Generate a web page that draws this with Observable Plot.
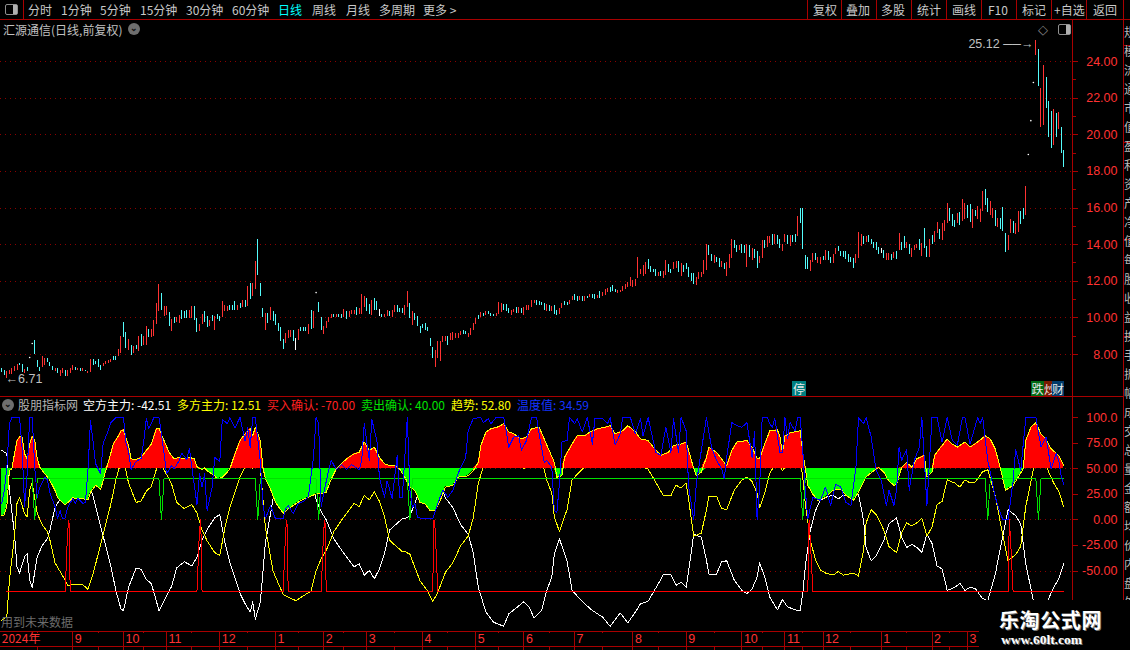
<!DOCTYPE html>
<html lang="zh">
<head>
<meta charset="utf-8">
<script src="https://cdn.jsdelivr.net/npm/d3@7"></script>
<script src="https://cdn.jsdelivr.net/npm/@observablehq/plot@0.6"></script>
<style>
html,body{margin:0;padding:0;background:#000;}
#stage{position:relative;width:1130px;height:650px;overflow:hidden;background:#000;font-family:"Noto Sans CJK SC","Liberation Sans",sans-serif;font-size:12px;color:#c8c8c8;}
#stage svg{position:absolute;left:0;background:transparent;}
#stage svg path,#stage svg line,#stage svg rect{shape-rendering:crispEdges;}
.t{position:absolute;white-space:nowrap;line-height:14px;}
.r{position:absolute;background:#a80000;}
.tag{position:absolute;top:381px;height:15px;line-height:15px;text-align:center;color:#e8e8e8;overflow:hidden;font-size:12px;}
</style>
</head>
<body>
<div id="stage"></div>
<script>
// ---- price bars: high, low, kind (r up, c down, w flat, d one-price dot)
const highs = [
7.24,7.15,7.05,7.15,7.24,7.33,7.45,7.51,7.45,7.18,
7.29,7.84,8.6,8.78,7.69,7.29,7.91,7.78,7.78,7.56,
7.36,7.24,7.24,7.11,7.24,7.15,7.11,7.24,7.42,7.29,
7.24,7.24,7.24,7.15,7.09,7.73,7.73,7.64,7.75,7.42,
7.51,7.64,7.69,7.73,7.91,7.87,8.29,8.96,9.75,9.18,
8.84,8.47,8.42,8.51,9.0,9.09,8.96,9.55,9.38,9.38,
9.87,10.78,11.84,11.33,10.64,10.6,10.29,9.93,10.02,10.02,
10.15,10.42,10.33,10.38,10.42,10.64,10.64,9.98,9.65,10.2,
10.36,10.09,9.84,10.15,10.09,10.2,10.09,10.91,10.69,10.64,
10.69,10.69,10.91,10.69,10.78,10.96,10.96,11.69,11.87,11.87,
13.09,14.29,11.87,10.51,10.24,10.24,10.56,10.33,10.2,9.69,
9.47,8.84,9.15,9.29,9.33,9.33,8.87,9.38,9.47,9.47,
9.47,9.65,10.42,10.36,11.38,10.85,10.02,9.55,9.78,10.02,
10.2,10.2,10.2,10.2,10.2,10.47,10.36,10.33,10.42,10.42,
10.56,10.5,11.29,11.18,11.05,10.75,10.93,11.05,10.87,10.45,
10.2,10.2,10.42,10.33,10.42,10.69,10.69,10.51,10.51,10.69,
11.45,10.78,10.36,10.24,10.09,9.55,9.64,9.69,9.47,8.87,
8.38,8.24,8.73,8.69,9.0,9.0,8.96,
9.15,9.19,9.15,9.15,9.26,9.33,9.28,9.15,9.42,9.69,
9.96,10.14,10.29,10.24,10.34,10.36,10.24,10.18,10.24,10.85,
10.81,10.72,10.72,10.51,10.38,10.45,10.54,10.56,10.52,10.56,
10.69,10.69,10.96,10.96,10.96,10.87,10.83,10.78,10.74,10.69,
10.6,10.69,10.38,10.51,10.78,10.9,10.85,10.96,11.18,11.28,
11.18,11.18,11.18,11.18,11.18,11.27,11.28,11.28,11.2,11.45,
11.36,11.54,11.59,11.68,11.77,11.55,11.5,11.5,11.72,11.83,
11.92,12.19,12.04,12.08,13.27,12.64,12.86,13.02,13.18,12.8,
12.66,12.64,12.48,12.53,12.53,13.13,12.91,12.64,13.0,13.07,
13.09,12.95,12.84,12.95,12.73,12.4,12.42,12.22,12.46,12.5,
13.13,14.0,13.94,13.45,13.4,13.31,13.25,13.09,12.98,13.02,
13.45,14.3,14.21,13.94,13.94,14.03,13.94,14.0,13.94,13.8,
13.76,13.62,13.35,14.21,14.21,14.43,14.45,14.58,14.58,14.52,
14.27,14.0,14.58,14.48,14.48,14.48,14.54,15.53,15.97,16.0,
13.4,13.27,13.13,13.49,13.49,13.27,13.27,13.36,13.67,13.62,
13.27,13.45,13.81,13.89,13.6,13.62,13.62,13.45,
13.29,13.24,13.48,14.67,14.54,14.42,14.45,14.51,14.29,14.14,
14.13,13.86,13.78,13.69,13.51,13.51,13.48,13.55,13.64,14.6,
14.13,14.45,14.13,14.02,13.78,13.96,14.0,14.29,14.07,14.89,
13.91,14.29,14.51,14.72,15.21,14.83,15.16,15.32,16.24,15.97,
15.65,15.32,15.7,15.75,16.46,16.24,16.13,16.19,15.92,15.86,
16.08,15.92,16.89,17.0,16.51,16.35,15.97,15.86,15.43,15.43,
16.03,14.61,14.51,15.37,15.27,15.16,15.81,15.81,15.97,17.16,
18.92,20.77,22.85,
25.12,24.66,22.51,23.8,23.12,21.82,21.27,21.38,21.17,21.19,20.4,19.12];
const lows = [
7.00,6.87,6.71,6.91,6.93,7.05,7.15,7.42,7.00,6.96,
7.05,7.84,8.6,7.98,7.29,7.05,7.29,7.42,7.55,7.36,
7.15,7.05,6.96,6.78,6.96,6.82,6.78,6.96,7.15,7.15,
7.15,7.09,7.09,7.05,6.96,7.0,7.42,7.47,7.29,7.15,
7.33,7.47,7.51,7.55,7.65,7.65,7.87,8.05,8.91,8.33,
8.24,7.96,8.05,8.27,8.15,8.42,8.51,8.51,8.93,8.91,
8.96,9.64,10.36,10.42,10.09,10.15,9.51,9.27,9.69,9.73,
9.69,9.91,9.96,9.96,9.96,9.96,9.87,9.22,9.27,9.64,
9.73,9.47,9.51,9.78,9.33,9.93,9.78,10.02,10.36,10.36,
10.42,10.42,10.42,10.42,10.51,10.56,10.56,10.64,11.0,11.15,
11.55,12.33,11.15,10.02,9.33,9.69,9.84,9.78,9.6,9.24,
8.69,8.29,8.6,8.87,8.93,8.73,8.24,8.78,9.24,9.24,
9.24,9.11,9.36,9.42,11.38,10.27,9.29,9.11,9.42,9.73,
9.96,10.0,10.0,10.0,9.96,10.02,9.91,10.02,10.18,10.18,
10.15,10.2,10.2,10.56,10.33,10.2,10.15,10.42,10.42,10.09,
10.0,10.0,10.05,10.09,10.0,10.29,10.29,10.29,10.24,10.15,
10.55,9.96,9.6,9.87,9.55,9.15,9.42,9.33,9.24,8.42,
7.78,7.29,7.78,7.6,8.65,8.73,8.51,
8.79,8.79,8.88,8.9,9.06,9.11,9.11,8.92,9.02,9.33,
9.66,9.93,10.0,10.09,10.14,10.16,10.09,10.05,10.05,10.2,
10.27,10.38,10.33,10.24,10.14,10.27,10.24,10.24,10.24,10.14,
10.38,10.42,10.56,10.78,10.65,10.69,10.65,10.42,10.36,10.33,
10.33,10.2,10.14,10.2,10.51,10.65,10.69,10.74,10.96,10.96,
10.9,10.96,10.92,10.88,11.05,11.1,11.05,11.01,11.05,11.05,
11.18,11.23,11.36,11.41,11.46,11.36,11.32,11.41,11.46,11.54,
11.65,11.72,11.65,11.72,12.13,12.37,12.26,12.37,12.64,12.49,
12.46,12.26,12.26,12.26,12.13,12.31,12.46,12.4,12.64,12.68,
12.5,12.26,12.5,12.64,12.22,12.0,11.81,11.77,12.1,12.22,
12.37,12.59,13.4,13.09,12.98,13.04,12.77,12.77,12.64,12.26,
12.71,13.25,13.78,13.58,13.67,13.53,13.49,12.77,13.27,13.13,
13.22,12.71,12.95,13.22,13.8,13.85,14.07,13.94,14.0,14.03,
13.78,13.62,14.12,14.0,13.89,14.09,14.09,14.45,15.15,13.74,
12.64,12.64,12.55,13.0,13.13,12.98,12.91,13.16,13.13,13.13,
12.98,12.98,13.45,13.62,13.35,13.27,13.18,13.0,
13.02,12.72,12.99,13.26,13.91,14.02,14.13,14.13,13.98,13.8,
13.69,13.44,13.51,13.22,13.11,13.11,13.15,13.24,13.2,13.69,
13.69,13.8,13.8,13.48,13.31,13.69,13.78,13.69,13.37,13.8,
13.31,13.31,14.02,14.13,14.61,14.29,14.24,14.72,15.16,15.27,
14.99,14.94,15.16,15.05,15.27,15.37,15.43,15.21,14.89,15.54,
15.37,15.21,15.81,16.13,15.75,15.59,15.43,14.99,14.94,14.83,
14.72,13.58,13.69,14.61,14.61,14.56,14.67,15.1,15.37,15.59,
18.92,20.77,22.85,
24.31,22.64,20.4,20.5,21.41,19.85,19.25,19.43,19.85,20.28,18.97,18.2];
const kinds = (
"ccrrrrrccr"+"cddcccrrcc"+"crcrrcrrrc"+"rcrcrrcccc"+"rrrrccrrcc"+"rcrcrcrrcr"+"rrrcrrcrcr"+"rcccrrccrr"+"ccrcrccrrr"+"cccrcrcrcr"+
"rcccrcrccc"+"ccrrrcwrcc"+"crcrdccrrr"+"rcrccrcrrr"+"crrrccrccw"+"crrcrrcccr"+"rcrccccccc"+"crrrrrc"+
"rrrrrccrrr"+"rcrcrcccrr"+"rcccrrcrcr"+"rrrrccccrc"+"rccrrccrrc"+"crcrcrccrc"+"rrrcccrrrr"+"rrrrrrrrcc"+"ccrcrrccrr"+"crcccccrrr"+
"rrccrccrcr"+"rrccrccrcr"+"ccrrcrrcrc"+"crrcrccrcc"+"ccrrcrrcrc"+"crrccccc"+
"ccrrrcrccc"+"ccwcrrcrcr"+"ccrcrrrcrc"+"crcrrcrrrc"+"ccrcrrccrc"+"rrrccrrcrc"+"ccrrcrrccr"+"ddd"+"rcrrccc"+"rcrcc").split("");

// ---- indicator: key bars shared by the two mirrored lines
const lineBars = [0,2,3,5,6,7,9,10,11,12,14,16,18,19,21,23,25,26,28,32,34,36,38,40,43,45,47,48,50,53,55,57,59,61,62,64,67,69,72,75,77,79,81,84,86,88,90,94,96,98,99,100,102,104,107,111,116,122,124,126,128,131,135,139,141,143,145,147,149,151,153,155,158,159,161,163,165,168,170,172,175,178,181,184,186,188,191,194,198,200,203,206,208,210,213,215,217,218,220,223,225,228,230,233,237,240,244,247,250,252,255,259,261,264,266,268,270,271,273,276,278,279,282,284,286,289,292,294,296,298,299,301,303,306,308,310,313,315,316,317,319,321,323,325,328,330,332,336,338,340,341,343,345,348,350,353,355,357,359,361,363,365,367,369,371,373,376,378,380,382,384,387,389,392,394,397,400,402,404,407,410,413,415,417,419];
const kongfang = [68,64.5,29,-14,-46,-52,-36,-33,-59,-66,-36,-25,-18.5,-10,12,20.5,29,34.5,33,33.5,38,23,3.6,-16,-45,-69,-87,-89,-66,-47,-48.5,-58,-62.5,-79.5,-89,-79,-65,-47,-41,-45,-36.5,-20,-9.5,2,5,-22,-42,-72,-82,-90,-80,-97,-80.5,-22.5,20,43,49,39.5,20,8,0,-18.5,-33,-46,-43,-54,-49.5,-57.5,-48,-33,-10,-5.5,1,1,3.6,16.6,29.6,39.4,50,41,21.5,11.7,-4.6,-14,-32,-66,-90,-100,-104,-92,-86,-80,-85,-96,-88.6,-69,-56,-33,-18.6,-40,-69,-77,-82,-88.6,-95,-104,-91,-100.6,-90,-82,-79.5,-62.5,-53.7,-53.7,-64,-61,-66,-49.5,-14,-17,-39.5,-53,-53,-41,-40,-59,-69,-72,-67.5,-56,-42,-56,-75.6,-88,-78,-85,-88,-89,-72,-46,-10,9,19,22,24,20.5,24,22,25,-0.6,-27,-40,-35,-20,-4,2,-17,-27,-24,-27,-31.6,-14,-23,-45,-48,-69,-66,-62,-69,-66,-67,-77,-79,-53,-27,10,4,-4,-43,-79,-101.6,-77,-66,-58,-42.51];
const duofang = [-98,-94.5,-59,-16,16,22,6,3,29,36,6,-5,-11.5,-20,-42,-50.5,-59,-64.5,-63,-63.5,-68,-53,-33.6,-14,15,39,57,59,36,17,18.5,28,32.5,49.5,59,49,35,17,11,15,6.5,-10,-20.5,-32,-35,-8,12,42,52,60,50,67,50.5,-7.5,-50,-73,-79,-69.5,-50,-38,-30,-11.5,3,16,13,24,19.5,27.5,18,3,-20,-24.5,-31,-31,-33.6,-46.6,-59.6,-69.4,-80,-71,-51.5,-41.7,-25.4,-16,2,36,60,70,74,62,56,50,55,66,58.6,39,26,3,-11.4,10,39,47,52,58.6,65,74,61,70.6,60,52,49.5,32.5,23.7,23.7,34,31,36,19.5,-16,-13,9.5,23,23,11,10,29,39,42,37.5,26,12,26,45.6,58,48,55,58,59,42,16,-20,-39,-49,-52,-54,-50.5,-54,-52,-55,-29.4,-3,10,5,-10,-26,-32,-13,-3,-6,-3,1.6,-16,-7,15,18,39,36,32,39,36,37,47,49,23,-3,-40,-34,-26,13,49,71.6,47,36,28,12.51];

const trendBars = [0,1,2,3,4,5,6,7,8,9,10,11,12,13,14,15,16,17,18,19,21,22,23,25,27,28,30,32,34,35,37,39,40,41,42,44,46,47,48,50,51,53,55,57,59,61,62,64,66,68,70,72,74,76,77,79,80,81,84,85,87,89,90,92,94,96,98,99,100,102,103,104,106,108,111,113,115,118,121,124,126,128,130,132,134,136,139,141,143,145,147,149,151,153,155,157,159,161,163,165,167,169,171,173,175,178,180,184,186,188,189,191,193,196,198,200,202,205,207,209,212,214,216,218,219,221,222,225,227,230,232,235,238,240,242,245,247,250,252,255,257,260,263,265,268,270,271,273,274,276,278,279,282,284,286,288,290,294,296,298,299,301,303,306,307,308,309,311,315,316,317,318,320,322,325,328,331,333,336,338,341,344,346,348,350,352,353,355,357,359,361,364,365,367,368,370,373,375,377,380,382,385,388,390,392,394,396,399,401,403,404,406,408,410,412,414,417,419];
const trendVals = [4,5,14,48,50,64.5,77.5,81,81,64.5,59.6,74,81.8,77.5,59.6,51.5,48,45,41.7,38.4,28.6,22,19,14.7,19,21.5,20.5,20.5,19.5,27,33.6,30,38.4,48,56,74,82,87,88,72.6,59.6,59,61,67.7,74,89,89.6,77.5,66,59.6,61,59.6,61,59.6,52,49,50.8,48,43,40,41.7,46.6,50,64.5,77.5,84,89,82,90.5,77.5,51.5,40,30,17,6.5,10.7,14,19,22,25.4,25.4,27,40,50,54.7,59.6,64.5,66,76,67.7,71,61,54.7,53,53,49.7,41.7,32,28.7,17,15.6,9,9,19,32,33.6,41.7,43,48,56,72.6,85.7,89,91,94,86,84,79,81,89,90.5,79,67.7,56,41.7,43,61,74,82,82,85.7,89,90.5,92,84,87,92,86,79,77.5,71,63,66,72.6,74,76,67.7,50,43,46.6,61,71,66,59.6,53,67.7,76,77.5,71,60,60,74,87,88,81,66,82,85,87,66,51,33.5,25,19,22,29,30,24,19,27,42,48,51,46.6,38,33.6,34.5,51,56,51.5,59.6,63,42,46.6,63,69.4,79,74,71,76,71,76,82,79,69,50,29,33.6,41.7,50,77.5,90.5,95,84,79,69.4,63,52.8];

const tempBars = [0,1,2,3,4,7,8,9,10,11,12,13,14,15,17,18,19,21,22,23,24,25,26,28,29,30,32,33,34,35,36,37,39,40,42,43,45,48,49,50,51,53,55,56,57,58,59,60,62,63,64,65,67,68,70,71,73,74,75,77,78,79,80,81,83,84,86,87,89,90,92,94,96,97,98,99,100,102,103,104,106,108,111,112,113,115,117,119,121,123,124,125,126,127,129,130,132,134,136,138,141,142,143,145,146,148,149,151,152,153,154,156,157,158,159,160,161,162,163,164,166,170,172,174,176,178,180,182,183,184,186,189,190,192,193,195,198,199,200,202,204,205,207,209,211,212,214,215,217,218,219,220,221,223,224,226,227,229,231,233,234,237,239,240,242,244,245,248,250,252,253,255,257,258,260,262,264,265,267,268,270,271,273,274,276,278,280,282,284,285,286,288,290,292,294,296,297,298,299,300,302,303,304,305,307,308,309,310,311,313,314,315,316,317,318,320,323,325,327,329,331,333,335,337,338,340,341,343,344,345,347,349,350,352,353,354,355,357,358,360,362,363,365,367,369,371,373,375,377,379,380,382,385,386,387,389,392,394,395,397,399,400,402,404,408,410,412,414,416,417,418,419];
const tempVals = [16,29,51.5,94,100,100,70,13,45,100,100,51,22,32,42,39,26,13,1,9,1,2,12,21,16,21,16,17,49,97,77,55,45,75,87,95,100,100,75,67,49,57,60,77,99,89,94,100,100,84,65,45,53,50,58,65,59,70,51,15,45,32,45,9,32,61,57,98,94,100,90,100,77,90,71,100,100,57,15,1,14,1,1,11,14,6,16,18,23,62,100,94,13,26,49,58,49,54,49,54,49,58,94,58,98,77,41,22,38,30,20.5,63,22,22,61,100,29,12,16,2.6,1,1,16,29,22,29,45,56,61,87,99,100,95,99,94,100,100,87,71,81,82,67.7,77.5,100,100,84,56,58,51.5,9,7.5,35,76,77.5,100,94,99,86,100,74,99,99,94,100,73,84,100,100,84,99,82,100,77.5,66,63,90.5,66,99,66,100,87,32,0,35,68,100,71,58,50,40,61,95,92,90.5,95,61,86,0,32,100,100,94,90.5,99,66,66,100,79,95,87,100,100,68,29,1,22,19,32,14,35,32,17,14,51.5,100,94,100,81,64.5,48,38,14,29,14,29,71,58,69,29,58,71,100,14,100,100,76,100,77.5,73,100,100,74,100,94,100,58,22,6,0,0,38,69,48,100,100,71,81,50,64.5,58,42,34.59];

const buyBars = [2,25,26,26.5,27,77,78,78.5,79,111,112,112.5,113,126,127,127.5,128,170,170.5,171,172,318,318.5,319,320,397,397.5,398,399,419];
const buyVals = [-70,-70,-10,0,-70,-70,-10,0,-70,-70,-10,0,-70,-70,-10,0,-70,-70,0,-10,-70,-70,0,-20,-70,-70,0,-20,-70,-70];
const sellBars = [4,12,13,14,62,63,64,100,101,102,124,125,126,160,161,162,315,316,317,388,389,390,408,409,410,419];
const sellVals = [40,40,0,40,40,0,40,40,0,40,40,0,40,40,0,40,40,0,40,40,0,40,40,0,40,40];

// ---- axes
const priceTicks = [8,10,12,14,16,18,20,22,24];
const priceMinor = [9,11,13,15,17,19,21,23];
const indTicks = [100,75,50,25,0,-25,-50];
const indGrid = [50,0,-50];
const monthBars = [28,48,65,86,108,127,144,166,187,206,226,249,270,292,309,324,347,367,381];
const monthNames = ["9","10","11","12","1","2","3","4","5","6","7","8","9","10","11","12","1","2","3"];
const midMonthBars = [14,38,56,75,97,117,135,155,176,196,216,237,259,281,300,316,335,357,374];

const toolbarLeft = [["分时",28],["1分钟",61],["5分钟",100],["15分钟",140],["30分钟",186],["60分钟",232],["日线",278],["周线",312],["月线",346],["多周期",379],["更多 >",423]];
const toolbarRight = [["复权",813],["叠加",846],["多股",881],["统计",917],["画线",952],["F10",988],["标记",1022],["+自选",1054],["返回",1093]];
const dividers = [807,841,876,911,946,981,1016,1051,1086,1123];
const legend = [["股朋指标网",18,"#b4b4b4"],["空方主力: -42.51",83,"#ffffff"],["多方主力: 12.51",177,"#ffff00"],["买入确认: -70.00",267,"#ff2020"],["卖出确认: 40.00",361,"#00e000"],["趋势: 52.80",451,"#ffff00"],["温度值: 34.59",517,"#1434ff"]];

const RED="#ff3232", DARK="#a80000", CYAN="#54fcfc";
const N = highs.length;
const stage = document.getElementById("stage");
const xScale = {domain:[0,N-1], range:[1.3,1063.3], axis:null};
const bars = highs.map((h,i)=>({i,h,l:lows[i],k:kinds[i]}));
const zip = (xs,ys)=>xs.map((x,i)=>({x,y:ys[i]}));
const base = {width:1130,marginLeft:0,marginTop:0,marginBottom:0,marginRight:58,
  style:{background:"transparent",overflow:"visible",fontFamily:"'Liberation Sans',sans-serif",fontSize:"12.5px"}};
const colorOf = k=>k==="r"?RED:k==="c"?CYAN:"#ffffff";

// price panel
const price = Plot.plot({...base,height:378,x:xScale,
  y:{domain:[8,24],range:[335,42],axis:null},
  marks:[
    Plot.ruleY(priceTicks,{stroke:"#8c0000",strokeDasharray:"1,4",strokeWidth:1}),
    Plot.ruleX(bars.filter(d=>d.k!=="d"),{x:"i",y1:"l",y2:"h",stroke:d=>colorOf(d.k),strokeWidth:1}),
    Plot.dot(bars.filter(d=>d.k==="d"),{x:"i",y:"h",r:0.8,fill:"#ffffff"}),
    Plot.axisY(priceTicks,{anchor:"right",tickSize:5,tickPadding:40,textAnchor:"end",stroke:DARK,fill:RED,label:null,tickFormat:d=>d.toFixed(2)}),
    Plot.axisY(priceMinor,{anchor:"right",tickSize:3,stroke:DARK,label:null,tickFormat:()=>""}),
    Plot.text([{x:407,y:25.12}],{x:"x",y:"y",text:()=>"25.12 ──→",textAnchor:"end",dy:3,fill:"#c0c0c0",fontSize:12.5}),
    Plot.text([{x:1.5,y:6.71}],{x:"x",y:"y",text:()=>"←6.71",textAnchor:"start",dy:1,fill:"#c0c0c0",fontSize:12.5})
  ]});
price.style.top="19px";
stage.append(price);

// indicator panel
const trend = zip(trendBars,trendVals);
const ind = Plot.plot({...base,height:233,x:xScale,
  y:{domain:[-50,100],range:[173.5,20],axis:null},
  marks:[
    Plot.ruleY(indGrid,{stroke:"#8c0000",strokeDasharray:"1,4",strokeWidth:1}),
    Plot.line(zip(lineBars,kongfang),{x:"x",y:"y",stroke:"#ffffff",strokeWidth:1}),
    Plot.line(zip(lineBars,duofang),{x:"x",y:"y",stroke:"#ffff00",strokeWidth:1}),
    Plot.areaY(trend,{x:"x",y1:()=>50,y2:d=>Math.max(d.y,50),fill:"#ff0000"}),
    Plot.areaY(trend,{x:"x",y1:()=>50,y2:d=>Math.min(d.y,50),fill:"#00ff00"}),
    Plot.line(trend,{x:"x",y:"y",stroke:"#ffff00",strokeWidth:1}),
    Plot.line(zip(sellBars,sellVals),{x:"x",y:"y",stroke:"#00e000",strokeWidth:1}),
    Plot.line(zip(buyBars,buyVals),{x:"x",y:"y",stroke:"#ff0000",strokeWidth:1}),
    Plot.line(zip(tempBars,tempVals),{x:"x",y:"y",stroke:"#0000ff",strokeWidth:1}),
    Plot.axisY(indTicks,{anchor:"right",tickSize:5,tickPadding:40,textAnchor:"end",stroke:DARK,fill:RED,label:null,tickFormat:d=>d===100?"100.0":d.toFixed(2)})
  ]});
ind.style.top="397px";
stage.append(ind);

// month strip
const strip = Plot.plot({...base,height:20,x:xScale,y:{domain:[0,20],range:[0,20],axis:null},
  marks:[
    Plot.ruleY([0.5,16],{x1:()=>-1,x2:()=>385.6,stroke:DARK,strokeWidth:1}),
    Plot.ruleX(monthBars,{y1:()=>0.5,y2:()=>20,stroke:DARK,strokeWidth:1}),
    Plot.ruleX(midMonthBars,{y1:()=>0.5,y2:()=>2.5,stroke:DARK,strokeWidth:1}),
    Plot.ruleX(midMonthBars,{y1:()=>16,y2:()=>20,stroke:DARK,strokeWidth:1}),
    Plot.text(monthBars,{x:d=>d,y:()=>8.5,text:(d,i)=>monthNames[i],textAnchor:"start",dx:2,fill:RED,fontSize:12.5}),
    Plot.text([0],{x:d=>d,y:()=>8.5,text:()=>"2024年",textAnchor:"start",dx:0,fill:RED,fontSize:12,fontFamily:"'Noto Sans CJK SC'"})
  ]});
strip.style.top="630px";
stage.append(strip);

// chrome
function txt(s,x,y,color,extra){const d=document.createElement("div");d.className="t";d.textContent=s;d.style.left=x+"px";d.style.top=(y-7)+"px";if(color)d.style.color=color;if(extra)Object.assign(d.style,extra);stage.append(d);return d;}
function box(x,y,w,h,c){const d=document.createElement("div");d.className="r";Object.assign(d.style,{left:x+"px",top:y+"px",width:w+"px",height:h+"px"});if(c)d.style.background=c;stage.append(d);return d;}
box(0,19,1130,1);
box(23,0,1,19);
dividers.forEach(x=>box(x,0,1,19));
box(1072,19,1,581);
box(1123,19,1,581);
box(0,396,1123,1);
[45,142,239,336].forEach(y=>box(1123,y,7,1));
toolbarLeft.forEach(([s,x])=>txt(s,x,9.5,s==="日线"?"#00ffff":"#c8c8c8"));
toolbarRight.forEach(([s,x])=>txt(s,x,9.5,"#c8c8c8"));
txt("汇源通信(日线,前复权)",3,29.5,"#c0c0c0");
function circle(cx,cy){const d=box(cx-6,cy-6,12,12,"#6e6e6e");d.style.borderRadius="50%";d.style.color="#111";d.style.font="bold 9px 'Liberation Sans'";d.style.textAlign="center";d.style.lineHeight="11px";d.textContent="⌄";}
circle(134,29);circle(8,405);
function icon(x,y){const d=box(x,y,11,9,"#000");d.style.border="1px solid #909090";d.style.borderRadius="2px";const e=document.createElement("div");e.style.cssText="position:absolute;right:0;top:0;width:4px;height:9px;background:#b0b0b0;";d.append(e);}
icon(5,4);icon(1058,24);
txt("◇",1038,29.5,"#8a8a8a",{fontSize:"13px",fontFamily:"'DejaVu Sans'"});
legend.forEach(([s,x,c])=>txt(s,x,405,c));
txt("用到未来数据",1,622,"#6c6c6c");
[["停",792,14,"#007f80"],["跌",1031,13,"#006a14"],["炒",1044,8,"#7a1a00"],["财",1052,12,"#003a6a"]].forEach(([s,x,w,c])=>{const d=document.createElement("div");d.className="tag";d.textContent=s;Object.assign(d.style,{left:x+"px",width:w+"px",background:c});stage.append(d);});

// clipped right side panel
const side=document.createElement("div");
side.style.cssText="position:absolute;left:1124px;top:22px;width:6px;height:578px;overflow:hidden;color:#b8b8b8;font-size:12px;line-height:19px;";
"规模流通市值盈利资产净值每股收益换手振幅成交总量金额均价内盘外盘现手日昨今".split("").forEach(c=>{const e=document.createElement("div");e.textContent=c;side.append(e);});
stage.append(side);

// watermark
const wm=document.createElement("div");
wm.style.cssText="position:absolute;left:979px;top:600px;width:151px;height:50px;background:#000;";
stage.append(wm);
txt("乐淘公式网",999,619.5,"#ffffff",{fontSize:"20px",fontWeight:"700",letterSpacing:"0.6px",textShadow:"1px 1px 0 #777"});
txt("www.60lt.com",1001,640,"#ffffff",{fontSize:"13.5px",fontWeight:"700",fontFamily:"'Liberation Serif'",textShadow:"1px 1px 0 #777"});
</script>
</body>
</html>
